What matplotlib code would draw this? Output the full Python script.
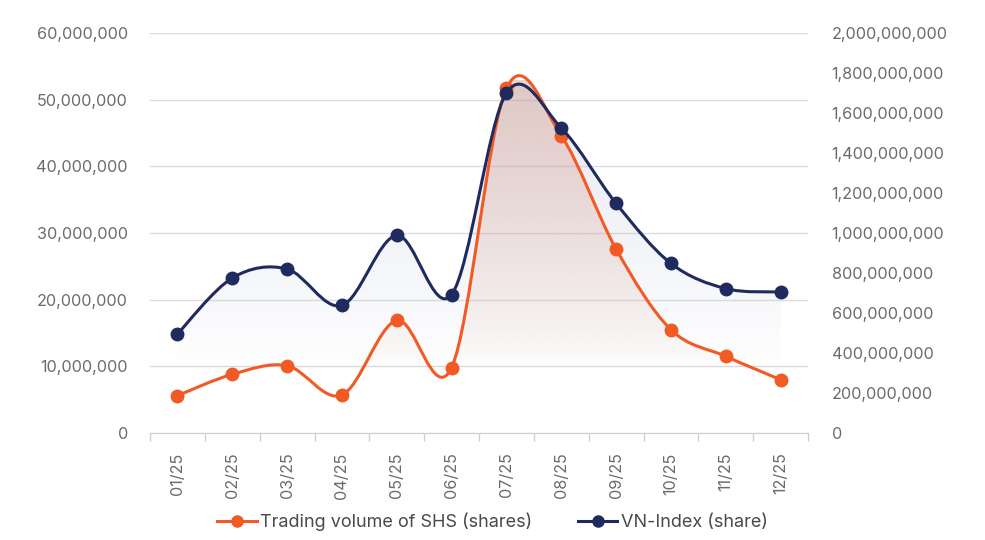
import numpy as np
import matplotlib
matplotlib.use("Agg")
import matplotlib.pyplot as plt
from matplotlib.path import Path
from matplotlib.patches import PathPatch
from matplotlib.lines import Line2D
from matplotlib.ticker import FuncFormatter, MultipleLocator

plt.rcParams['font.family'] = ['Inter', 'DejaVu Sans']

months = ['01/25', '02/25', '03/25', '04/25', '05/25', '06/25',
          '07/25', '08/25', '09/25', '10/25', '11/25', '12/25']
shs_volume = [5.6e6, 8.8e6, 10.1e6, 5.7e6, 16.9e6, 9.8e6,
              51.7e6, 44.6e6, 27.6e6, 15.5e6, 11.5e6, 8.0e6]
vnindex_volume = [495e6, 775e6, 820e6, 638e6, 988e6, 692e6,
                  1700e6, 1525e6, 1148e6, 848e6, 722e6, 705e6]

orange = '#f15a24'
navy = '#1f2a5e'
grey_txt = '#6b6b6b'


def smooth_path(x, y, close_to=None):
    # catmull-rom style curve turned into cubic bezier segments
    pts = np.column_stack([x, y]).astype(float)
    n = len(pts)
    verts = [pts[0]]
    codes = [Path.MOVETO]
    for i in range(n - 1):
        p0 = pts[max(i - 1, 0)]
        p1 = pts[i]
        p2 = pts[i + 1]
        p3 = pts[min(i + 2, n - 1)]
        c1 = p1 + (p2 - p0) / 6.0
        c2 = p2 - (p3 - p1) / 6.0
        verts += [c1, c2, p2]
        codes += [Path.CURVE4] * 3
    if close_to is not None:
        verts += [(pts[-1][0], close_to), (pts[0][0], close_to), pts[0]]
        codes += [Path.LINETO, Path.LINETO, Path.CLOSEPOLY]
    return Path(np.array(verts), codes)


fig = plt.figure(figsize=(9.85, 5.4), dpi=100)
ax = fig.add_axes([150 / 985, 1 - 433 / 540, 658 / 985, 400 / 540])
ax2 = ax.twinx()

x = np.arange(len(months))


def gradient(ax_, color, a_top, y_bot, y_top, clip):
    # vertical fade: a_top at y_top down to 0 at y_bot (left-axis units)
    rgb = matplotlib.colors.to_rgb(color)
    h = 256
    img = np.zeros((h, 1, 4))
    img[..., :3] = rgb
    t = np.linspace(0, 1, h)  # 0 = top of image
    img[:, 0, 3] = a_top * (1 - t) ** 0.8
    im = ax_.imshow(img, aspect='auto', extent=(-0.5, len(months) - 0.5, y_bot, y_top),
                    origin='upper', zorder=1, interpolation='bilinear')
    im.set_clip_path(clip)
    return im


# navy area (drawn on left axes with right-axis transform)
navy_patch = PathPatch(smooth_path(x, vnindex_volume, close_to=0), facecolor='none',
                       edgecolor='none', transform=ax2.transData)
ax.add_patch(navy_patch)
gradient(ax, '#a0aac8', 0.24, 9.5e6, 52e6, navy_patch)

orange_patch = PathPatch(smooth_path(x, shs_volume, close_to=0), facecolor='none',
                         edgecolor='none', transform=ax.transData)
ax.add_patch(orange_patch)
gradient(ax, '#d59987', 0.42, 9.5e6, 53e6, orange_patch)

ax.set_xlim(-0.5, len(months) - 0.5)
ax.set_ylim(0, 60e6)
ax2.set_ylim(0, 2000e6)

# lines
ax.add_patch(PathPatch(smooth_path(x, shs_volume), facecolor='none', edgecolor=orange,
                       lw=2.2, zorder=3, transform=ax.transData))
ax.plot(x, shs_volume, 'o', color=orange, ms=9, zorder=4)
ax.add_patch(PathPatch(smooth_path(x, vnindex_volume), facecolor='none', edgecolor=navy,
                       lw=2.2, zorder=5, transform=ax2.transData))
ax.plot(x, vnindex_volume, 'o', color=navy, ms=9, zorder=6, transform=ax2.transData)

# axes styling
fmt = FuncFormatter(lambda v, p: f'{v:,.0f}')
ax.yaxis.set_major_locator(MultipleLocator(10e6))
ax.yaxis.set_major_formatter(fmt)
ax2.yaxis.set_major_locator(MultipleLocator(200e6))
ax2.yaxis.set_major_formatter(fmt)
ax.grid(axis='y', color='#dcdcdc', lw=1)
ax.set_axisbelow(True)

for a in (ax, ax2):
    for s in a.spines.values():
        s.set_visible(False)
ax.spines['bottom'].set_visible(True)
ax.spines['bottom'].set_color('#cfcfcf')

ax.tick_params(axis='y', length=0, pad=16, labelsize=11.7, labelcolor=grey_txt)
ax2.tick_params(axis='y', length=0, pad=17, labelsize=11.7, labelcolor=grey_txt)

ax.set_xticks(x)
ax.set_xticklabels(months, rotation=90)
ax.set_xticks(np.arange(-0.5, len(months)), minor=True)
ax.tick_params(axis='x', which='major', length=0, pad=14, labelsize=11.7, labelcolor=grey_txt)
ax.tick_params(axis='x', which='minor', length=6, color='#cfcfcf', width=1)

handles = [Line2D([], [], color=orange, lw=2.2, marker='o', ms=8),
           Line2D([], [], color=navy, lw=2.2, marker='o', ms=8)]
fig.legend(handles, ['Trading volume of SHS (shares)', 'VN-Index (share)'],
           loc='center', bbox_to_anchor=(0.5, 0.033), ncol=2, frameon=False,
           fontsize=13, labelcolor='#4a4a4a', handlelength=2.2, handletextpad=0.2,
           columnspacing=2.5)

fig.savefig('out.png', dpi=100)
